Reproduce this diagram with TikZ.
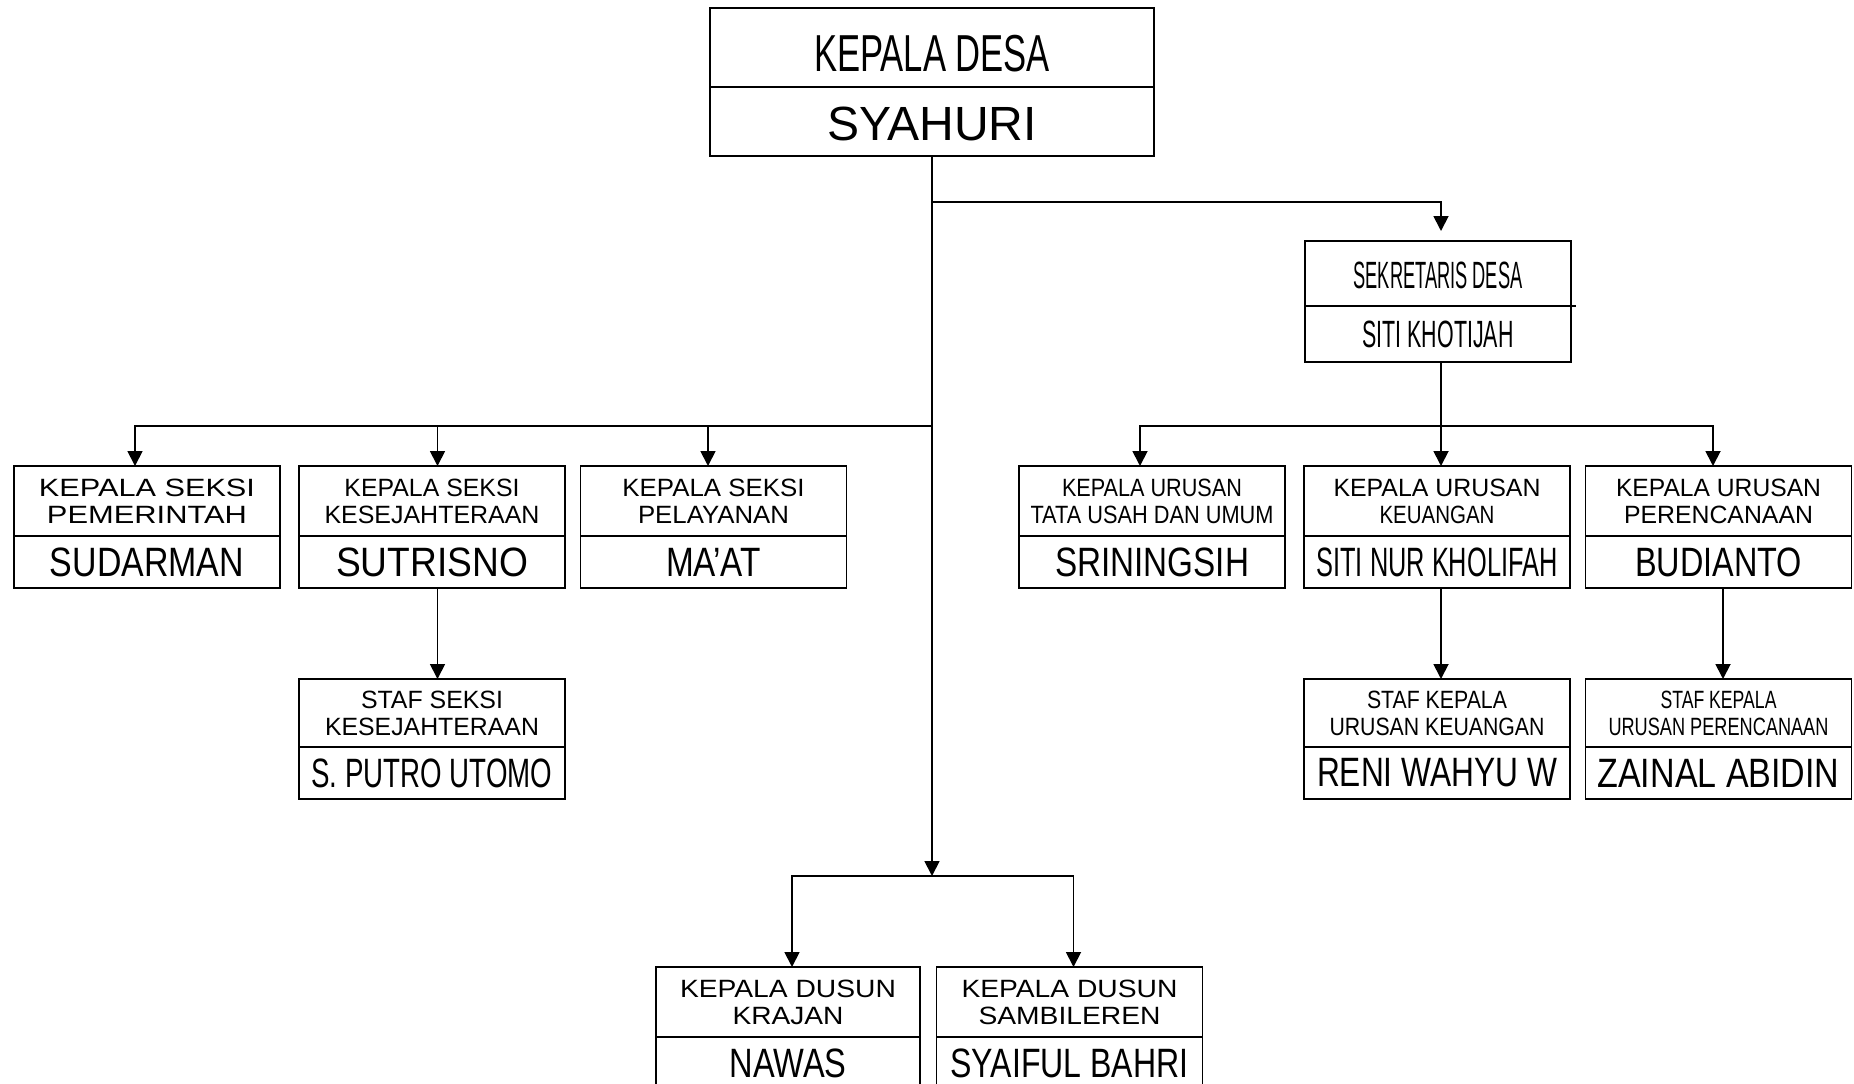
\documentclass[tikz,border=0pt]{standalone}
\usepackage{fontspec}
\setmainfont{Liberation Sans}
\usetikzlibrary{positioning}
\usetikzlibrary{arrows.meta}

% squeeze or widen a line of text to a given width
\newcommand{\tx}[2]{\resizebox{#1}{\height}{#2}}

\begin{document}
\begin{tikzpicture}[
            x=0.5pt, y=-0.5pt,
            headbox/.style={rectangle, draw, line width=0.9pt, inner sep=0pt, outer sep=0pt, minimum width=133pt, minimum height=35pt, align=center, font=\fontsize{12.5}{13.5}\selectfont},
            namebox/.style={rectangle, draw, line width=0.9pt, inner sep=0pt, outer sep=0pt, minimum width=133pt, minimum height=26pt, font=\fontsize{20.5}{22}\selectfont},
            arr/.style={-{Triangle[width=7.5pt, length=7.5pt]}, line width=0.9pt},
            ]

            \clip (0,0) rectangle (1854,1083);

            % kepala desa
            \node[headbox, minimum width=222pt, minimum height=39.5pt, text height=24pt, font=\fontsize{26}{28}\selectfont] (kades) at (932,47.5) {\tx{118pt}{KEPALA DESA}};
            \node[namebox, minimum width=222pt, minimum height=34.5pt, text height=19pt, font=\fontsize{24}{26}\selectfont, below=0pt of kades] (kades-n) {\tx{105pt}{SYAHURI}};

            % sekretaris
            \node[headbox, minimum height=32.5pt, text height=15.5pt, font=\fontsize{19}{21}\selectfont] (sekdes) at (1438,273.5) {\tx{84.5pt}{SEKRETARIS DESA}};
            \node[namebox, minimum height=28pt, font=\fontsize{19}{21}\selectfont, below=0pt of sekdes] (sekdes-n) {\tx{75.5pt}{SITI KHOTIJAH}};
            \draw[line width=0.9pt] (sekdes.south east) -- ++(5,0);

            % kepala seksi
            \node[headbox] (kspem) at (147,501) {\tx{108pt}{KEPALA SEKSI}\\\tx{100pt}{PEMERINTAH}};
            \node[namebox, below=0pt of kspem] (kspem-n) {\tx{97pt}{SUDARMAN}};
            \node[headbox] (kskes) at (432,501) {\tx{87.5pt}{KEPALA SEKSI}\\\tx{107.5pt}{KESEJAHTERAAN}};
            \node[namebox, below=0pt of kskes] (kskes-n) {\tx{96pt}{SUTRISNO}};
            \node[headbox] (kspel) at (713.5,501) {\tx{91pt}{KEPALA SEKSI}\\\tx{75.5pt}{PELAYANAN}};
            \node[namebox, below=0pt of kspel] (kspel-n) {\tx{47.5pt}{MA’AT}};

            % kepala urusan
            \node[headbox] (kutu) at (1152,501) {\tx{90pt}{KEPALA URUSAN}\\\tx{121.5pt}{TATA USAH DAN UMUM}};
            \node[namebox, below=0pt of kutu] (kutu-n) {\tx{97pt}{SRININGSIH}};
            \node[headbox] (kuku) at (1437,501) {\tx{103.5pt}{KEPALA URUSAN}\\\tx{57.5pt}{KEUANGAN}};
            \node[namebox, below=0pt of kuku] (kuku-n) {\tx{120.5pt}{SITI NUR KHOLIFAH}};
            \node[headbox] (kuper) at (1718.5,501) {\tx{102.5pt}{KEPALA URUSAN}\\\tx{94.5pt}{PERENCANAAN}};
            \node[namebox, below=0pt of kuper] (kuper-n) {\tx{83.5pt}{BUDIANTO}};

            % staf
            \node[headbox, minimum height=34pt] (stkes) at (432,713) {\tx{71pt}{STAF SEKSI}\\\tx{107pt}{KESEJAHTERAAN}};
            \node[namebox, below=0pt of stkes] (stkes-n) {\tx{120.5pt}{S. PUTRO UTOMO}};
            \node[headbox, minimum height=34pt] (stku) at (1437,713) {\tx{70pt}{STAF KEPALA}\\\tx{107.5pt}{URUSAN KEUANGAN}};
            \node[namebox, below=0pt of stku] (stku-n) {\tx{120pt}{RENI WAHYU W}};
            \node[headbox, minimum height=34pt] (stper) at (1718.5,713) {\tx{58pt}{STAF KEPALA}\\\tx{110pt}{URUSAN PERENCANAAN}};
            \node[namebox, below=0pt of stper] (stper-n) {\tx{121pt}{ZAINAL ABIDIN}};

            % kepala dusun
            \node[headbox, minimum width=132pt] (kdkra) at (788,1002) {\tx{108pt}{KEPALA DUSUN}\\\tx{55.5pt}{KRAJAN}};
            \node[namebox, minimum width=132pt, below=0pt of kdkra] (kdkra-n) {\tx{58.5pt}{NAWAS}};
            \node[headbox] (kdsam) at (1069.5,1002) {\tx{108pt}{KEPALA DUSUN}\\\tx{91pt}{SAMBILEREN}};
            \node[namebox, below=0pt of kdsam] (kdsam-n) {\tx{119pt}{SYAIFUL BAHRI}};

            % garis
            \coordinate (b1) at (932,202);
            \coordinate (b2) at (932,426);
            \coordinate (b3) at (932,876);

            \draw[arr] (kades-n.south) -- (b3);
            \draw[arr, shorten >=5pt] (b1) -| ([xshift=1.5pt]sekdes.north);
            \draw[arr] (b2) -| ([xshift=-6pt]kspem.north);
            \draw[arr] (b2) -| ([xshift=2.75pt]kskes.north);
            \draw[arr] (b2) -| ([xshift=-2.75pt]kspel.north);

            \draw[line width=0.9pt] ([xshift=1.5pt]sekdes-n.south) -- ([xshift=1.5pt]sekdes-n.south |- b2);
            \draw[arr] ([xshift=1.5pt]sekdes-n.south |- b2) -| ([xshift=-6pt]kutu.north);
            \draw[arr] ([xshift=1.5pt]sekdes-n.south |- b2) -| ([xshift=2pt]kuku.north);
            \draw[arr] ([xshift=1.5pt]sekdes-n.south |- b2) -| ([xshift=-2.75pt]kuper.north);

            \draw[arr] ([xshift=2.75pt]kskes-n.south) -- ([xshift=2.75pt]stkes.north);
            \draw[arr] ([xshift=2pt]kuku-n.south) -- ([xshift=2pt]stku.north);
            \draw[arr] ([xshift=2.25pt]kuper-n.south) -- ([xshift=2.25pt]stper.north);

            \draw[arr] (b3) -| ([xshift=2pt]kdkra.north);
            \draw[arr] (b3) -| ([xshift=2pt]kdsam.north);
        \end{tikzpicture}
\end{document}
